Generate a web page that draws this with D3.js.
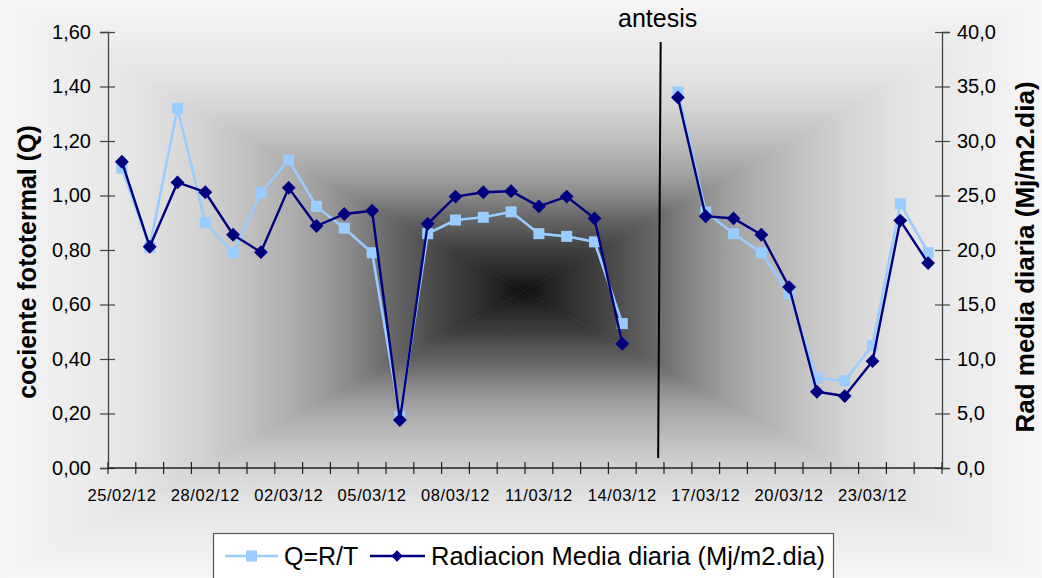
<!DOCTYPE html>
<html>
<head>
<meta charset="utf-8">
<script src="https://cdn.jsdelivr.net/npm/d3@7"></script>
<style>
  body { margin: 0; background: #f2f2f2; }
  svg { display: block; }
  text { font-family: "Liberation Sans", Arial, sans-serif; fill: #000; }
</style>
</head>
<body>
<svg id="chart" width="1042" height="578"></svg>
<script>
// Daily dates (25/02/12 .. 25/03/12)
const dates = [
  "25/02/12","26/02/12","27/02/12","28/02/12","29/02/12","01/03/12","02/03/12","03/03/12",
  "04/03/12","05/03/12","06/03/12","07/03/12","08/03/12","09/03/12","10/03/12","11/03/12",
  "12/03/12","13/03/12","14/03/12","15/03/12","16/03/12","17/03/12","18/03/12","19/03/12",
  "20/03/12","21/03/12","22/03/12","23/03/12","24/03/12","25/03/12"
];
// Photothermal quotient Q = R/T (left axis)
const cociente = [
  1.10, 0.81, 1.32, 0.90, 0.79, 1.01, 1.13, 0.96, 0.88, 0.79,
  0.19, 0.86, 0.91, 0.92, 0.94, 0.86, 0.85, 0.83, 0.53, null,
  1.38, 0.94, 0.86, 0.79, 0.64, 0.33, 0.32, 0.45, 0.97, 0.79
];
// Mean daily radiation, Mj/m2.dia (right axis)
const radiacion = [
  28.1, 20.3, 26.2, 25.3, 21.4, 19.8, 25.7, 22.2, 23.3, 23.6,
   4.4, 22.4, 24.9, 25.3, 25.4, 24.0, 24.9, 22.9, 11.4, null,
  34.0, 23.1, 22.9, 21.4, 16.6,  7.0,  6.6,  9.8, 22.7, 18.8
];
const leftTicks  = [0, 0.2, 0.4, 0.6, 0.8, 1.0, 1.2, 1.4, 1.6];
const rightTicks = [0, 5, 10, 15, 20, 25, 30, 35, 40];
const labelEvery = 3;
// Anthesis marker, in category units along the date axis
const antesis = { label: "antesis", posTop: 19.88, posBottom: 19.79, qTop: 1.563, qBottom: 0.037 };
const seriesNames = ["Q=R/T", "Radiacion Media diaria (Mj/m2.dia)"];

const W = 1042, H = 578;
const plot = { left: 108, right: 942, top: 32, bottom: 468 };
const svg = d3.select("#chart");
const fmt1 = v => d3.format(".2f")(v).replace(".", ",");
const fmt2 = v => d3.format(".1f")(v).replace(".", ",");

// ---- rectangular "from centre" background shading ----
const defs = svg.append("defs");
const cx = W / 2 + 3, cy = H / 2 + 2;
const shadeStops = [
  [0.00, "#101010"], [0.07, "#2a2a2a"], [0.145, "#404040"], [0.20, "#555555"],
  [0.26, "#6a6a6a"], [0.32, "#858585"], [0.37, "#979797"], [0.43, "#aaaaaa"],
  [0.49, "#b8b8b8"], [0.55, "#c5c5c5"], [0.62, "#d3d3d3"], [0.72, "#e2e2e2"],
  [0.80, "#e9e9e9"], [0.90, "#efefef"], [1.00, "#f6f6f6"]
];
const sides = [
  { id: "gTop",    pts: [[0,0],[W,0],[cx,cy]],  to: [cx, 0] },
  { id: "gBottom", pts: [[0,H],[W,H],[cx,cy]],  to: [cx, H] },
  { id: "gLeft",   pts: [[0,0],[0,H],[cx,cy]],  to: [0, cy] },
  { id: "gRight",  pts: [[W,0],[W,H],[cx,cy]],  to: [W, cy] }
];
sides.forEach(s => {
  const g = defs.append("linearGradient").attr("id", s.id)
    .attr("gradientUnits", "userSpaceOnUse")
    .attr("x1", cx).attr("y1", cy).attr("x2", s.to[0]).attr("y2", s.to[1]);
  shadeStops.forEach(([o, c]) => g.append("stop").attr("offset", o).attr("stop-color", c));
});
svg.append("g").selectAll("path").data(sides).join("path")
  .attr("d", s => "M" + s.pts.map(p => p.join(",")).join("L") + "Z")
  .attr("fill", s => `url(#${s.id})`)
  .attr("stroke", s => `url(#${s.id})`)
  .attr("stroke-width", 0.6);

// ---- scales ----
const x = d3.scaleBand().domain(dates).range([plot.left, plot.right]).paddingInner(0).paddingOuter(0);
const xPos = d3.scaleLinear().domain([0, dates.length]).range([plot.left, plot.right]);
const yL = d3.scaleLinear().domain([0, 1.6]).range([plot.bottom, plot.top]);
const yR = d3.scaleLinear().domain([0, 40]).range([plot.bottom, plot.top]);
const cxOf = d => x(d) + x.bandwidth() / 2;

const axisColor = "#444";

// ---- left axis ----
const gl = svg.append("g").attr("transform", `translate(${plot.left},0)`)
  .call(d3.axisLeft(yL).tickValues(leftTicks).tickFormat(fmt1).tickSize(8).tickPadding(9));
gl.select(".domain").attr("stroke", axisColor).attr("stroke-width", 1.3);
gl.selectAll(".tick line").attr("x1", 7).attr("x2", -8).attr("stroke", axisColor).attr("stroke-width", 1.2);
gl.selectAll(".tick text").attr("font-size", 20).attr("x", -17)
  .attr("font-family", "'Liberation Sans', Arial, sans-serif").attr("fill", "#000");

// ---- right axis ----
const gr = svg.append("g").attr("transform", `translate(${plot.right},0)`)
  .call(d3.axisRight(yR).tickValues(rightTicks).tickFormat(fmt2).tickSize(8));
gr.select(".domain").attr("stroke", axisColor).attr("stroke-width", 1.3);
gr.selectAll(".tick line").attr("x1", -7).attr("x2", 8).attr("stroke", axisColor).attr("stroke-width", 1.2);
gr.selectAll(".tick text").attr("font-size", 20).attr("x", 15)
  .attr("font-family", "'Liberation Sans', Arial, sans-serif").attr("fill", "#000");

// ---- category (date) axis ----
const gx = svg.append("g");
gx.append("line").attr("x1", plot.left).attr("x2", plot.right)
  .attr("y1", yL(0)).attr("y2", yL(0)).attr("stroke", "#222").attr("stroke-width", 1.3);
gx.selectAll("line.tk").data(d3.range(dates.length + 1)).join("line").attr("class", "tk")
  .attr("x1", i => xPos(i)).attr("x2", i => xPos(i))
  .attr("y1", yL(0) - 6).attr("y2", yL(0) + 6)
  .attr("stroke", "#222").attr("stroke-width", 1.2);
gx.selectAll("text").data(dates.filter((d, i) => i % labelEvery === 0)).join("text")
  .attr("x", d => cxOf(d)).attr("y", yL(0) + 33)
  .attr("text-anchor", "middle").attr("font-size", 16.5).attr("letter-spacing", 0.6)
  .text(d => d);

// ---- axis titles ----
svg.append("text").attr("transform", `translate(36,${(yL(0)+yL(1.6))/2 + 12}) rotate(-90)`)
  .attr("text-anchor", "middle").attr("font-size", 25).attr("font-weight", "bold")
  .text("cociente fototermal (Q)");
svg.append("text").attr("transform", `translate(1034,${(yR(0)+yR(40))/2 + 7}) rotate(-90)`)
  .attr("text-anchor", "middle").attr("font-size", 26).attr("font-weight", "bold")
  .text("Rad media diaria (Mj/m2.dia)");

// ---- anthesis marker ----
svg.append("line")
  .attr("x1", xPos(antesis.posTop)).attr("y1", yL(antesis.qTop))
  .attr("x2", xPos(antesis.posBottom)).attr("y2", yL(antesis.qBottom))
  .attr("stroke", "#000").attr("stroke-width", 2);
svg.append("text").attr("x", xPos(antesis.posTop) - 3).attr("y", 27)
  .attr("text-anchor", "middle").attr("font-size", 25).text(antesis.label);

// ---- series ----
const qColor = "#99ccff", rColor = "#000080";
const lineQ = d3.line().defined(d => d[1] != null).x(d => cxOf(d[0])).y(d => yL(d[1]));
const lineR = d3.line().defined(d => d[1] != null).x(d => cxOf(d[0])).y(d => yR(d[1]));
const qData = dates.map((d, i) => [d, cociente[i]]);
const rData = dates.map((d, i) => [d, radiacion[i]]);

svg.append("path").attr("d", lineQ(qData)).attr("fill", "none")
  .attr("stroke", qColor).attr("stroke-width", 2.6).attr("stroke-linejoin", "round");
svg.append("g").selectAll("rect").data(qData.filter(d => d[1] != null)).join("rect")
  .attr("x", d => cxOf(d[0]) - 5.5).attr("y", d => yL(d[1]) - 5.5)
  .attr("width", 11).attr("height", 11).attr("fill", qColor);

svg.append("path").attr("d", lineR(rData)).attr("fill", "none")
  .attr("stroke", rColor).attr("stroke-width", 2.4).attr("stroke-linejoin", "round");
svg.append("g").selectAll("path").data(rData.filter(d => d[1] != null)).join("path")
  .attr("transform", d => `translate(${cxOf(d[0])},${yR(d[1])}) rotate(45)`)
  .attr("d", d3.symbol().type(d3.symbolSquare).size(96)())
  .attr("fill", rColor);

// ---- legend ----
const lg = svg.append("g");
lg.append("rect").attr("x", 213.5).attr("y", 533.5).attr("width", 620).attr("height", 60)
  .attr("fill", "#fff").attr("stroke", "#555").attr("stroke-width", 1.2);
const legY = 556;
lg.append("line").attr("x1", 225).attr("x2", 278).attr("y1", legY).attr("y2", legY)
  .attr("stroke", qColor).attr("stroke-width", 2.6);
lg.append("rect").attr("x", 246).attr("y", legY - 5.5).attr("width", 11).attr("height", 11).attr("fill", qColor);
lg.append("text").attr("x", 284).attr("y", legY + 9).attr("font-size", 25).text(seriesNames[0]);
lg.append("line").attr("x1", 370).attr("x2", 425).attr("y1", legY).attr("y2", legY)
  .attr("stroke", rColor).attr("stroke-width", 2.4);
lg.append("path").attr("transform", `translate(397,${legY}) rotate(45)`)
  .attr("d", d3.symbol().type(d3.symbolSquare).size(64)()).attr("fill", rColor);
lg.append("text").attr("x", 431).attr("y", legY + 9).attr("font-size", 25.5).text(seriesNames[1]);
</script>
</body>
</html>
